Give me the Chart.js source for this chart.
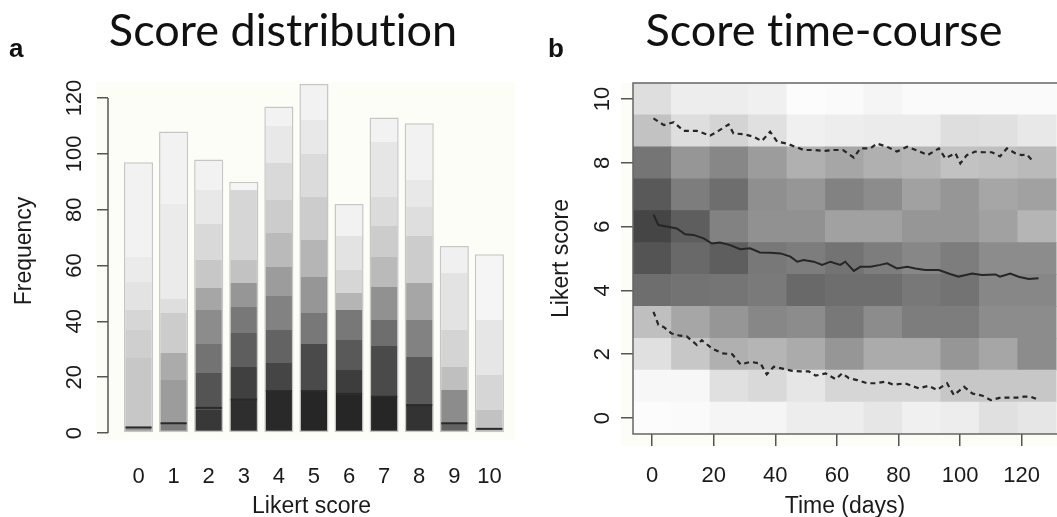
<!DOCTYPE html>
<html>
<head>
<meta charset="utf-8">
<title>Likert scores</title>
<script src="https://cdn.jsdelivr.net/npm/chart.js@4.4.1/dist/chart.umd.min.js"></script>
<style>
  body { margin: 0; background: #fff; }
  #page { position: relative; width: 1057px; height: 517px; overflow: hidden; }
  canvas { position: absolute; top: 0; }
  .heading {
    position: absolute; top: 7px; font: 45px Lato, sans-serif; line-height: 1;
    font-variant-ligatures: none; font-feature-settings: "liga" 0;
    color: #111; white-space: nowrap; transform: translateX(-50%);
  }
  .tag {
    position: absolute; top: 35px; font: bold 26px "Liberation Sans", Arial, sans-serif;
    line-height: 1; color: #111;
  }
</style>
</head>
<body>
<div id="page">
  <canvas id="dist" width="540" height="517" style="left:0"></canvas>
  <canvas id="course" width="517" height="517" style="left:540px"></canvas>
  <div class="heading" style="left:283px">Score distribution</div>
  <div class="heading" style="left:824px">Score time-course</div>
  <div class="tag" style="left:9px">a</div>
  <div class="tag" style="left:548px">b</div>
</div>
<script>
// ---- panel a: how often each score was given ----
const likertScores = [0, 1, 2, 3, 4, 5, 6, 7, 8, 9, 10];
const frequency = [97, 108, 98, 90, 117, 125, 82, 113, 111, 67, 64];
const freqTicks = [0, 20, 40, 60, 80, 100, 120];

// every bar is split into bands from the bottom up: inner band edges,
// then one density per band (0 = white, 100 = black)
const bandEdges = [
  [2, 27, 37, 44, 54, 63],
  [3.5, 19, 28.6, 43, 48, 82],
  [8.2, 21.4, 32, 44, 52, 62, 75, 87],
  [11.8, 23.8, 35.7, 45.3, 53.6, 62, 87],
  [14.8, 25, 37, 49, 59.6, 71.6, 83.5, 96.7, 109.8],
  [14.8, 32, 43, 56, 69, 84.7, 100, 112],
  [13.6, 22.6, 33.3, 44, 50, 58.4, 70.4],
  [13, 31, 40.5, 52.4, 63.2, 74, 84.7, 104.4],
  [10, 27.4, 40.5, 53.6, 70.4, 81.1, 90.7],
  [3.5, 15.4, 23.8, 36.9, 57.2],
  [1.7, 8.2, 20.8, 40.5]
];
const bandDensity = [
  [41, 22, 19, 16, 11, 8, 5],
  [51, 39, 33, 20, 13, 8, 5],
  [78, 67, 55, 45, 35, 22, 15, 9, 5],
  [82, 75, 63, 53, 41, 24, 16, 4],
  [84, 73, 61, 49, 39, 27, 20, 15, 9, 5],
  [85, 71, 53, 41, 29, 20, 14, 9, 5],
  [85, 76, 65, 53, 29, 16, 11, 5],
  [85, 71, 57, 43, 27, 20, 14, 10, 5],
  [80, 65, 49, 35, 20, 13, 9, 5],
  [61, 45, 25, 17, 11, 6],
  [33, 24, 16, 10, 4]
];
// dark rule across each bar
const barRule = [2, 3.5, 9, 12, 15, 15, 14, 13, 10, 3.5, 1.5];

// ---- panel b: scores over time ----
const dayTicks = [0, 20, 40, 60, 80, 100, 120];
const scoreTicks = [0, 2, 4, 6, 8, 10];
const binDays = [0, 12.5, 25, 37.5, 50, 62.5, 75, 87.5, 100, 112.5, 125];
const binScores = [0, 1, 2, 3, 4, 5, 6, 7, 8, 9, 10];
// density of answers per score (rows) and time bin (columns)
const binDensity = [
  [1, 2, 4, 4, 7, 7, 10, 6, 7, 12, 10],
  [3, 3, 12, 15, 10, 16, 16, 16, 22, 22, 22],
  [12, 22, 31, 29, 33, 41, 33, 33, 41, 35, 45],
  [25, 35, 41, 47, 45, 53, 45, 51, 51, 45, 45],
  [57, 55, 54, 52, 59, 57, 57, 53, 55, 47, 47],
  [67, 59, 63, 53, 51, 55, 51, 47, 51, 45, 45],
  [73, 63, 49, 43, 43, 37, 37, 41, 41, 37, 29],
  [65, 51, 57, 44, 41, 49, 45, 37, 41, 35, 37],
  [54, 41, 47, 39, 31, 35, 31, 29, 24, 25, 27],
  [24, 13, 17, 12, 6, 7, 8, 8, 13, 12, 9],
  [13, 7, 7, 6, 1, 2, 4, 2, 2, 2, 2]
];

const meanDay = [0.4, 2, 4.7, 8, 10.7, 13.4, 16.7, 19.4, 22, 25.3, 28.6, 31.8, 35, 38.3,
  41.7, 44.9, 47.1, 49.2, 52.5, 55.2, 57.9, 61.1, 62.7, 65.5, 67.6, 70.9, 74.1, 76.3,
  79.5, 82.8, 85.5, 88.7, 93.1, 96.3, 99.5, 103.9, 107.1, 111.5, 113, 116.3, 119, 122.3, 125.5];
const meanScore = [6.38, 6.05, 6.0, 5.94, 5.76, 5.74, 5.63, 5.47, 5.5, 5.42, 5.29, 5.32, 5.19, 5.18,
  5.16, 5.06, 4.9, 4.95, 4.9, 4.8, 4.9, 4.8, 4.9, 4.61, 4.74, 4.74, 4.8, 4.85,
  4.69, 4.74, 4.69, 4.64, 4.64, 4.53, 4.43, 4.53, 4.48, 4.5, 4.43, 4.53, 4.43, 4.36, 4.38];

const upperDay = [0.4, 3.8, 7, 10.2, 14.5, 18.8, 21.5, 24.8, 26.4, 30, 32.8, 35.6, 38.3, 40.6,
  43.8, 46.5, 49.2, 52.5, 55.7, 59, 62, 65.5, 67.6, 70.9, 73, 76.3, 79.5, 82.8, 86.9,
  89.5, 93.1, 95.2, 98.5, 100.1, 102.2, 104.9, 107.6, 110.3, 113, 115.2, 117.9, 120, 121.7, 123.9];
const upperScore = [9.39, 9.18, 9.27, 9.0, 9.0, 8.85, 9.0, 9.2, 8.92, 8.89, 8.82, 8.68, 8.97, 8.66,
  8.6, 8.5, 8.4, 8.4, 8.37, 8.4, 8.4, 8.16, 8.45, 8.45, 8.6, 8.5, 8.35, 8.5, 8.35,
  8.24, 8.45, 8.14, 8.3, 7.98, 8.24, 8.35, 8.33, 8.33, 8.2, 8.45, 8.3, 8.24, 8.26, 8.03];

const lowerDay = [0.4, 2, 3.8, 6.3, 9, 11.2, 14.5, 16.1, 19.4, 22.7, 26, 28.7, 31.9, 35.2, 37.2,
  39.5, 42.7, 45.5, 48.2, 50.9, 53.1, 56.3, 59.6, 61.7, 63.9, 66.6, 69.9, 72.6, 75.8, 78.5,
  82, 86.6, 89.8, 92.5, 95.8, 98, 101.3, 104, 107.3, 110, 113.2, 115.9, 118.6, 120.8, 123, 125.7];
const lowerScore = [3.33, 2.92, 2.85, 2.65, 2.58, 2.56, 2.29, 2.44, 2.18, 2.03, 2.0, 1.68, 1.76, 1.71, 1.37,
  1.61, 1.54, 1.48, 1.46, 1.46, 1.33, 1.40, 1.22, 1.40, 1.25, 1.19, 1.09, 1.09, 1.14, 1.04,
  1.09, 0.93, 1.01, 0.88, 1.09, 0.72, 0.98, 0.77, 0.70, 0.56, 0.64, 0.64, 0.64, 0.67, 0.67, 0.56];

// ---- shared helpers ----
const shade = d => {
  const v = Math.round(255 - 2.55 * d);
  return `rgb(${v},${v},${v})`;
};
const tickFont = {family: '"Liberation Sans", Arial, sans-serif', size: 22};
const titleFont = {family: '"Liberation Sans", Arial, sans-serif', size: 23};
const ink = '#1a1a1a';
const axisGrey = '#555';

// faint paper tone behind the plotting region
const paperBg = {
  id: 'paperBg',
  beforeDraw(chart, args, opts) {
    const {ctx, chartArea: a} = chart;
    ctx.save();
    ctx.fillStyle = opts.color;
    ctx.fillRect(a.left - opts.left, a.top + opts.top, a.right - a.left + opts.left,
      a.bottom - a.top - opts.top + opts.bottom);
    ctx.restore();
  }
};

// R-style y axis: line runs only from first to last tick
const axisLine = {
  id: 'axisLine',
  afterDraw(chart) {
    const {ctx, chartArea, scales: {y}} = chart;
    ctx.save();
    ctx.strokeStyle = axisGrey;
    ctx.lineWidth = 1.5;
    ctx.beginPath();
    ctx.moveTo(chartArea.left, y.getPixelForValue(freqTicks[0]));
    ctx.lineTo(chartArea.left, y.getPixelForValue(freqTicks[freqTicks.length - 1]));
    ctx.stroke();
    ctx.restore();
  }
};

// thin dark rule across each histogram bar
const barRules = {
  id: 'barRules',
  afterDatasetsDraw(chart) {
    const {ctx, scales: {y}} = chart;
    const bars = chart.getDatasetMeta(0).data;
    ctx.save();
    ctx.strokeStyle = '#2a2a2a';
    ctx.lineWidth = 2;
    bars.forEach((bar, i) => {
      const py = y.getPixelForValue(barRule[i]);
      ctx.beginPath();
      ctx.moveTo(bar.x - bar.width / 2 + 1.5, py);
      ctx.lineTo(bar.x + bar.width / 2 - 1.5, py);
      ctx.stroke();
    });
    ctx.restore();
  }
};

// open frame round the heat map (right edge runs off the page)
const frame = {
  id: 'frame',
  afterDatasetsDraw(chart) {
    const {ctx, chartArea: a} = chart;
    ctx.save();
    ctx.strokeStyle = '#666';
    ctx.lineWidth = 1.5;
    ctx.beginPath();
    ctx.moveTo(a.right, a.top);
    ctx.lineTo(a.left, a.top);
    ctx.lineTo(a.left, a.bottom);
    ctx.lineTo(a.right, a.bottom);
    ctx.stroke();
    ctx.restore();
  }
};

// banded grey fill of a histogram bar
function bandFill(ctx) {
  const chart = ctx.chart;
  const i = ctx.dataIndex;
  const y = chart.scales.y;
  if (i === undefined || !chart.chartArea || !y) return '#ddd';
  const total = frequency[i];
  const g = chart.ctx.createLinearGradient(0, y.getPixelForValue(0), 0, y.getPixelForValue(total));
  const edges = [0, ...bandEdges[i], total];
  bandDensity[i].forEach((d, k) => {
    const c = shade(d);
    g.addColorStop(edges[k] / total, c);
    g.addColorStop(edges[k + 1] / total, c);
  });
  return g;
}

const baseOptions = {
  responsive: false,
  animation: false,
  events: [],
  devicePixelRatio: 1
};

new Chart(document.getElementById('dist'), {
  type: 'bar',
  data: {
    datasets: [{
      data: likertScores.map((s, i) => ({x: s, y: frequency[i]})),
      backgroundColor: bandFill,
      borderColor: '#c6c6c6',
      borderWidth: 1.5,
      borderSkipped: false,
      categoryPercentage: 1,
      barPercentage: 0.83
    }]
  },
  options: {
    ...baseOptions,
    layout: {padding: {top: 62, right: 25, bottom: 0, left: 0}},
    plugins: {
      legend: {display: false},
      tooltip: {enabled: false},
      paperBg: {color: '#fdfdf7', left: 12, top: 20, bottom: 0}
    },
    scales: {
      x: {
        type: 'linear', offset: false, min: -0.87, max: 10.73,
        afterBuildTicks: s => { s.ticks = likertScores.map(v => ({value: v})); },
        afterFit: s => { s.height = 77; },
        grid: {display: false, offset: false},
        border: {display: false},
        ticks: {font: tickFont, color: ink, padding: 16, maxRotation: 0, autoSkip: false},
        title: {display: true, text: 'Likert score', font: titleFont, color: ink, padding: {top: 0, bottom: -3}}
      },
      y: {
        min: -2.5, max: 132.9,
        afterBuildTicks: s => { s.ticks = freqTicks.map(v => ({value: v})); },
        afterFit: s => { s.width = 108; },
        grid: {drawOnChartArea: false, tickLength: 11, color: axisGrey, lineWidth: 1.5},
        border: {display: false},
        ticks: {font: tickFont, color: ink, minRotation: 90, maxRotation: 90, crossAlign: 'center', padding: 4},
        title: {display: true, text: 'Frequency', font: titleFont, color: ink, padding: {top: 11, bottom: 0}}
      }
    }
  },
  plugins: [paperBg, axisLine, barRules]
});

const heatRows = binScores.map((score, r) => ({
  type: 'bar',
  order: 2,
  data: binDays.map(d => ({x: d, y: [score - 0.5, score + 0.5]})),
  backgroundColor: binDensity[r].map(shade),
  borderWidth: 0,
  grouped: false,
  categoryPercentage: 1,
  barPercentage: 1
}));

const toPoints = (days, vals) => days.map((d, i) => ({x: d, y: vals[i]}));

new Chart(document.getElementById('course'), {
  type: 'bar',
  data: {
    datasets: [
      {type: 'line', order: 0, data: toPoints(meanDay, meanScore),
        borderColor: '#262626', borderWidth: 2, pointRadius: 0, tension: 0, fill: false},
      {type: 'line', order: 0, data: toPoints(upperDay, upperScore),
        borderColor: '#262626', borderWidth: 2.2, borderDash: [5, 4], pointRadius: 0, tension: 0, fill: false},
      {type: 'line', order: 0, data: toPoints(lowerDay, lowerScore),
        borderColor: '#262626', borderWidth: 2.2, borderDash: [5, 4], pointRadius: 0, tension: 0, fill: false},
      ...heatRows
    ]
  },
  options: {
    ...baseOptions,
    layout: {padding: {top: 83, right: 0, bottom: 0, left: 0}},
    plugins: {
      legend: {display: false},
      tooltip: {enabled: false},
      paperBg: {color: '#fdfdf7', left: 12, top: 0, bottom: 12}
    },
    scales: {
      x: {
        type: 'linear', offset: false, min: -6.25, max: 131.5,
        afterBuildTicks: s => { s.ticks = dayTicks.map(v => ({value: v})); },
        afterFit: s => { s.height = 83; },
        grid: {drawOnChartArea: false, offset: false, tickLength: 12, color: axisGrey, lineWidth: 1.5},
        border: {display: false},
        ticks: {font: tickFont, color: ink, padding: 17, maxRotation: 0, autoSkip: false},
        title: {display: true, text: 'Time (days)', font: titleFont, color: ink, padding: {top: 0, bottom: -3}}
      },
      y: {
        min: -0.5, max: 10.5,
        afterBuildTicks: s => { s.ticks = scoreTicks.map(v => ({value: v})); },
        afterFit: s => { s.width = 93; },
        grid: {drawOnChartArea: false, tickLength: 12, color: axisGrey, lineWidth: 1.5},
        border: {display: false},
        ticks: {font: tickFont, color: ink, minRotation: 90, maxRotation: 90, crossAlign: 'center', padding: 6},
        title: {display: true, text: 'Likert score', font: titleFont, color: ink, padding: {top: 8, bottom: 0}}
      }
    }
  },
  plugins: [paperBg, frame]
});
</script>
</body>
</html>
